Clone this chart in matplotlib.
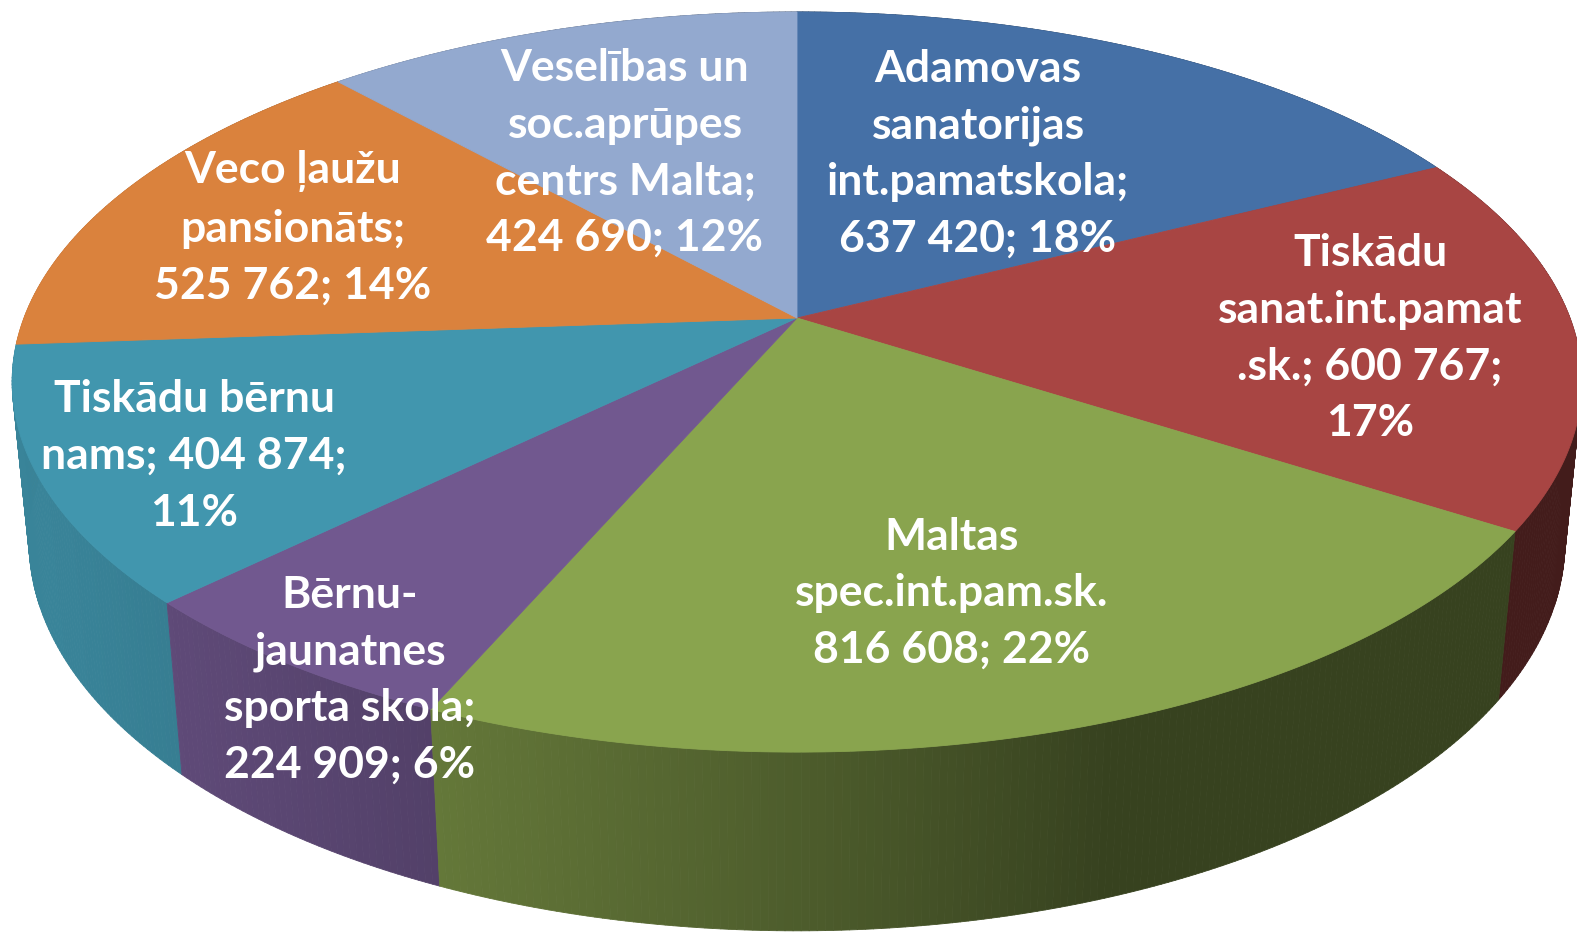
import numpy as np
import matplotlib
matplotlib.use("Agg")
import matplotlib.pyplot as plt
from matplotlib.collections import PolyCollection
from matplotlib.colors import to_rgb

# slices, clockwise from 12 o'clock
names = [
    "Adamovas sanatorijas int.pamatskola",
    "Tiskādu sanat.int.pamat.sk.",
    "Maltas spec.int.pam.sk.",
    "Bērnu-jaunatnes sporta skola",
    "Tiskādu bērnu nams",
    "Veco ļaužu pansionāts",
    "Veselības un soc.aprūpes centrs Malta",
]
values = [637420, 600767, 816608, 224909, 404874, 525762, 424690]
colors = ["#4570A6", "#A84543", "#89A44E", "#71588F", "#4196AE", "#DA823D", "#93A9CF"]

# label text as wrapped in the chart
label_fmt = [
    "Adamovas\nsanatorijas\nint.pamatskola;\n{v}; {p}%",
    "Tiskādu\nsanat.int.pamat\n.sk.; {v};\n{p}%",
    "Maltas\nspec.int.pam.sk.\n{v}; {p}%",
    "Bērnu-\njaunatnes\nsporta skola;\n{v}; {p}%",
    "Tiskādu bērnu\nnams; {v};\n{p}%",
    "Veco ļaužu\npansionāts;\n{v}; {p}%",
    "Veselības un\nsoc.aprūpes\ncentrs Malta;\n{v}; {p}%",
]
label_xy = [(978, 154), (1370, 338), (952, 593), (350, 680), (194, 456), (293, 228), (625, 153)]

# perspective view of the disc (pixel units)
X0, Y0 = 797, 318
HALF_W, HALF_H, PERSP = 773, 359, 0.173
THICK = 0.235
sin_a = HALF_H / HALF_W
cos_a = np.sqrt(1 - sin_a ** 2)
DIST = cos_a / PERSP
FOC = HALF_W * DIST


def proj(beta, z=0.0, r=1.0):
    u = r * np.sin(beta)
    v = -r * np.cos(beta)
    depth = DIST - (v * cos_a + z * sin_a)
    x = X0 + FOC * u / depth
    y = Y0 + FOC * (v * sin_a - z * cos_a) / depth
    return x, y, depth


def shade(beta):
    return 0.40 + 0.48 * max(0.0, np.cos(beta - np.radians(250)))


total = sum(values)
edges = np.radians(np.concatenate([[0], np.cumsum(values) / total * 360]))

fig = plt.figure(figsize=(15.77, 9.36), dpi=100)
ax = fig.add_axes([0, 0, 1, 1])
ax.set_xlim(0, 1577)
ax.set_ylim(936, 0)
ax.axis("off")

# side walls, far to near
wall_polys, wall_cols, wall_depth = [], [], []
for i in range(len(values)):
    b = np.linspace(edges[i], edges[i + 1], max(3, int(np.degrees(edges[i + 1] - edges[i]) * 2)))
    xt, yt, dt = proj(b)
    xb, yb, _ = proj(b, z=-THICK)
    base = np.array(to_rgb(colors[i]))
    for j in range(len(b) - 1):
        wall_polys.append([(xt[j], yt[j]), (xt[j + 1], yt[j + 1]), (xb[j + 1], yb[j + 1]), (xb[j], yb[j])])
        wall_cols.append(np.clip(base * shade(0.5 * (b[j] + b[j + 1])), 0, 1))
        wall_depth.append(0.5 * (dt[j] + dt[j + 1]))
order = np.argsort(wall_depth)[::-1]
walls = PolyCollection([wall_polys[k] for k in order],
                       facecolors=[wall_cols[k] for k in order],
                       edgecolors=[wall_cols[k] for k in order], linewidths=0.6)
ax.add_collection(walls)

# top faces
top_polys = []
for i in range(len(values)):
    b = np.linspace(edges[i], edges[i + 1], 200)
    xt, yt, _ = proj(b)
    top_polys.append([(X0, Y0)] + list(zip(xt, yt)))
tops = PolyCollection(top_polys, facecolors=colors, edgecolors=colors, linewidths=0.6)
ax.add_collection(tops)

for i, fmt in enumerate(label_fmt):
    txt = fmt.format(v=f"{values[i]:,}".replace(",", " "), p=round(100 * values[i] / total))
    ax.text(label_xy[i][0], label_xy[i][1], txt, ha="center", va="center", multialignment="center",
            color="white", fontsize=32, fontweight="bold", family=["Lato", "DejaVu Sans"],
            linespacing=1.5)

fig.savefig("out.png", dpi=100)
